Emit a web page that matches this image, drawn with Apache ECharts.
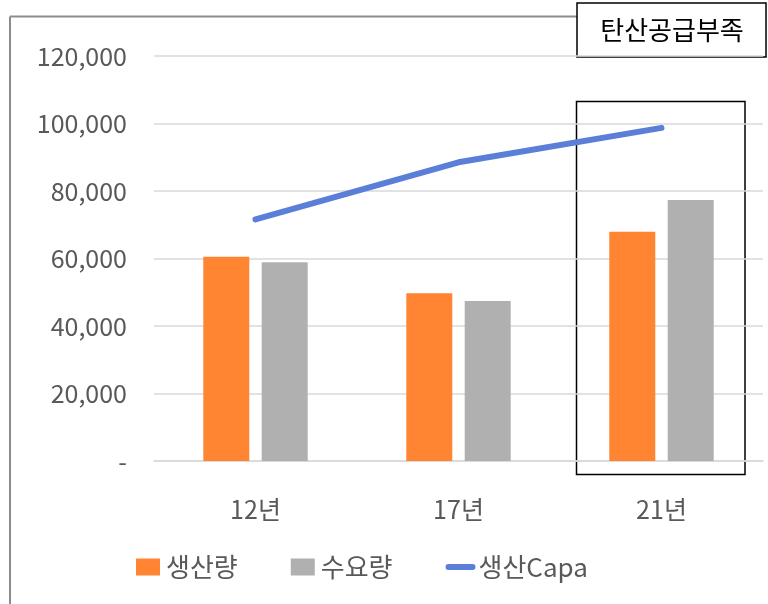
<!DOCTYPE html>
<html>
<head>
<meta charset="utf-8">
<script src="https://cdn.jsdelivr.net/npm/echarts@6/dist/echarts.min.js"></script>
<style>html,body{margin:0;padding:0;background:#fff}#chart{width:768px;height:604px}</style>
</head>
<body>
<div id="chart"></div>
<script>
var categories = ['12년', '17년', '21년'];
var production = [60500, 49700, 67900];
var demand = [58900, 47400, 77300];
var capacity = [71600, 88500, 98700];
var seriesNames = ['생산량', '수요량', '생산Capa'];
var noteText = '탄산공급부족';

var FONT = '"Noto Sans CJK KR", "Noto Sans", sans-serif';
var chart = echarts.init(document.getElementById('chart'));
chart.setOption({
  animation: false,
  grid: {left: 154, right: 5, top: 56, bottom: 143, containLabel: false},
  legend: {
    left: 136, top: 554, padding: 0,
    itemWidth: 24, itemHeight: 17, itemGap: 53,
    textStyle: {fontFamily: FONT, fontSize: 26, color: '#595959', padding: [0,0,0,1]},
    data: [
      {name: seriesNames[0], icon: 'rect'},
      {name: seriesNames[1], icon: 'rect'},
      {name: seriesNames[2], itemStyle: {opacity: 0}, lineStyle: {width: 6, cap: 'round', color: '#5B7FD8'}}
    ]
  },
  xAxis: {
    type: 'category', data: categories,
    axisLine: {show: true, lineStyle: {color: '#d9d9d9', width: 1.5}},
    axisTick: {show: false},
    axisLabel: {fontFamily: FONT, fontSize: 25, color: '#595959', margin: 36}
  },
  yAxis: {
    type: 'value', min: 0, max: 120000, interval: 20000,
    axisLine: {show: false}, axisTick: {show: false},
    splitLine: {lineStyle: {color: '#d9d9d9', width: 1.5}},
    axisLabel: {
      fontFamily: FONT, fontSize: 25, color: '#595959', margin: 27,
      formatter: function (v) { return v === 0 ? '-' : v.toLocaleString('en-US'); }
    }
  },
  series: [
    {name: seriesNames[0], type: 'bar', data: production, barWidth: 46, barGap: '27%',
     itemStyle: {color: '#FF8533'}},
    {name: seriesNames[1], type: 'bar', data: demand, barWidth: 46,
     itemStyle: {color: '#B0B0B0'}},
    {name: seriesNames[2], type: 'line', data: capacity, symbol: 'none',
     lineStyle: {color: '#5B7FD8', width: 6, cap: 'round'}, itemStyle: {color: '#5B7FD8'}}
  ],
  graphic: [
    {type: 'line', shape: {x1: 10, y1: 16.5, x2: 10, y2: 604}, style: {stroke: '#8c8c8c', lineWidth: 2}},
    {type: 'line', shape: {x1: 10, y1: 16.5, x2: 577, y2: 16.5}, style: {stroke: '#8c8c8c', lineWidth: 2}},
    {type: 'rect', shape: {x: 577, y: 3, width: 189, height: 54}, style: {fill: '#fff', stroke: '#000', lineWidth: 1.5}},
    {type: 'text', x: 672, y: 30, style: {text: noteText, fontFamily: FONT, fontSize: 26, fill: '#000', align: 'center', verticalAlign: 'middle'}},
    {type: 'rect', shape: {x: 576.5, y: 101.5, width: 168.5, height: 373}, style: {fill: 'none', stroke: '#000', lineWidth: 1.5}}
  ]
});
</script>
</body>
</html>
